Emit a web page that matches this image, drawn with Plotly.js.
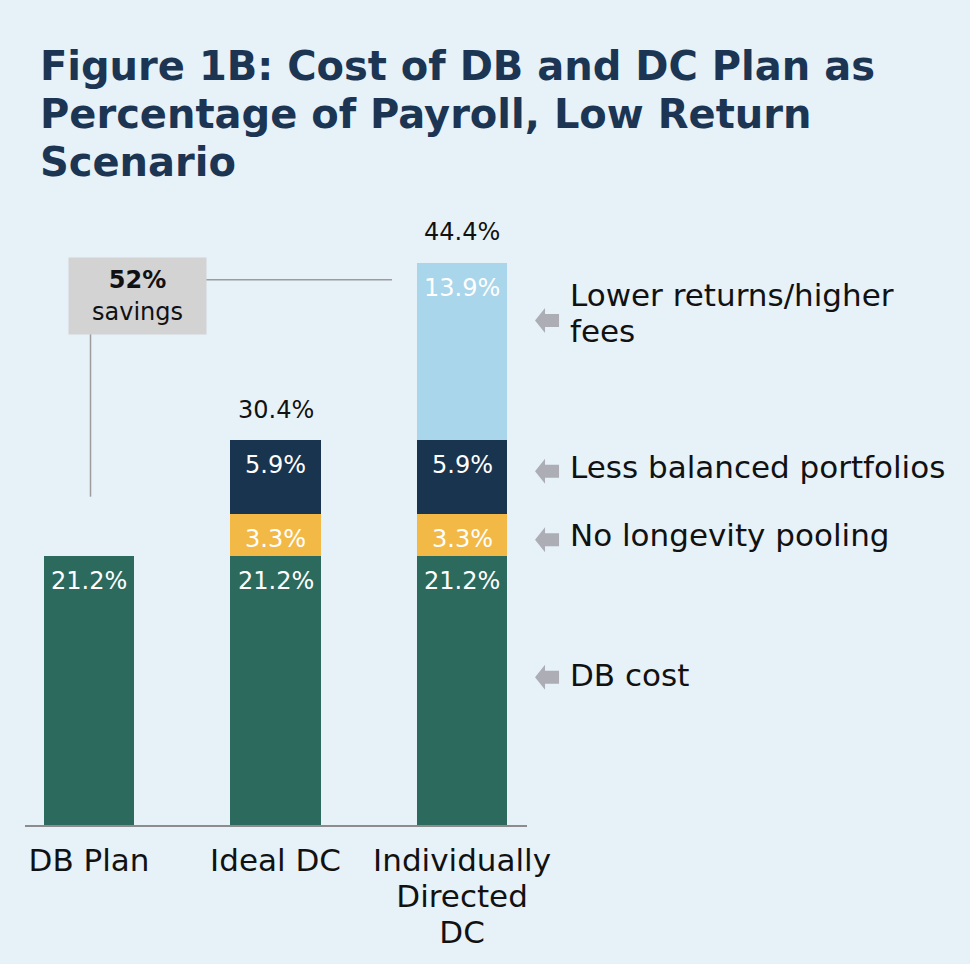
<!DOCTYPE html>
<html><head><meta charset="utf-8">
<script src="https://cdn.plot.ly/plotly-3.0.1.min.js"></script>
<style>html,body{margin:0;padding:0;background:#e6f1f8;}#chart{width:970px;height:964px;}</style>
</head><body><div id="chart"></div>
<script>
// ---- data ----
const categories = ['DB Plan', 'Ideal DC', 'Individually Directed DC'];
const tickLabels = ['DB Plan', 'Ideal DC', 'Individually<br>Directed<br>DC'];
const dbCost = [21.2, 21.2, 21.2];
const noLongevityPooling = [0, 3.3, 3.3];
const lessBalancedPortfolios = [0, 5.9, 5.9];
const lowerReturnsHigherFees = [0, 0, 13.9];
const totals = [null, 30.4, 44.4];
const seriesNames = ['DB cost', 'No longevity pooling', 'Less balanced portfolios', 'Lower returns/higher fees'];
const seriesLabels = ['DB cost', 'No longevity pooling', 'Less balanced portfolios', 'Lower returns/higher<br>fees'];
const savingsPct = '52%';
const savingsWord = 'savings';

// ---- styles / layout ----
const FONT = 'DejaVu Sans';
const colors = ['#2d6a5e', '#f3b947', '#19344f', '#a9d6ea'];
const series = [dbCost, noLongevityPooling, lessBalancedPortfolios, lowerReturnsHigherFees];

const traces = series.map((vals, i) => ({
  type: 'bar', x: categories, y: vals, name: seriesNames[i],
  marker: {color: colors[i], line: {width: 0}},
  hoverinfo: 'skip', showlegend: false
}));

const annotations = [];
// segment value labels
const cum = categories.map(() => 0);
series.forEach((vals, i) => {
  vals.forEach((v, j) => {
    cum[j] += v;
    if (v > 0) {
      annotations.push({
        xref: 'x', yref: 'y', x: categories[j], y: cum[j], yshift: -25,
        text: v.toFixed(1) + '%', showarrow: false, yanchor: 'middle',
        font: {family: FONT, size: 24, color: '#ffffff'}
      });
    }
  });
});
// totals
totals.forEach((t, j) => {
  if (t !== null) annotations.push({
    xref: 'x', yref: 'y', x: categories[j], y: t, yshift: 30,
    text: t.toFixed(1) + '%', showarrow: false, yanchor: 'middle',
    font: {family: FONT, size: 24, color: '#111111'}
  });
});
// side labels (label positions, y in axis units)
const sideLabelY = [11.8, 22.85, 28.2, 40.4];
const sideArrowY = [11.65, 22.5, 27.9, 39.8];
const shapes = [];
seriesLabels.forEach((lab, i) => {
  annotations.push({
    xref: 'paper', yref: 'y', x: 1.0817, y: sideLabelY[i], xanchor: 'left', yanchor: 'middle',
    align: 'left', showarrow: false,
    text: '<span style="font-size:31px">' + lab.split('<br>').join('</span><br><span style="font-size:31px">') + '</span>',
    font: {family: FONT, size: 28, color: '#111111'}
  });
  shapes.push({
    type: 'path', xref: 'paper', yref: 'y', xsizemode: 'pixel', ysizemode: 'pixel',
    xanchor: 1.016, yanchor: sideArrowY[i],
    path: 'M0,0 L10,12.5 L10,6.5 L24,6.5 L24,-6.5 L10,-6.5 L10,-12.5 Z',
    fillcolor: '#adadb6', line: {width: 0}
  });
});
// savings box
annotations.push({
  xref: 'paper', yref: 'y', x: 0.0857, y: 44.8, xanchor: 'left', yanchor: 'top',
  width: 137, height: 76, borderpad: 0, bgcolor: '#d3d3d4', showarrow: false,
  text: '<b>' + savingsPct + '</b><br>' + savingsWord, align: 'center',
  font: {family: FONT, size: 24, color: '#111111'}
});
shapes.push({type: 'line', xref: 'paper', yref: 'y', x0: 0.3586, x1: 0.731, y0: 43.0, y1: 43.0,
  line: {color: '#9c9c9c', width: 1.5}, layer: 'below'});
shapes.push({type: 'line', xref: 'paper', yref: 'y', x0: 0.1305, x1: 0.1305, y0: 38.8, y1: 25.9,
  line: {color: '#9c9c9c', width: 1.5}, layer: 'below'});

const layout = {
  width: 970, height: 964,
  paper_bgcolor: '#e6f1f8', plot_bgcolor: '#e6f1f8',
  margin: {l: 25, r: 443, t: 200, b: 139},
  barmode: 'stack', bargap: 0.515,
  title: {
    text: '<span style="font-size:40px"><b>Figure 1B:</b> Cost of DB and DC Plan as</span><br><span style="font-size:40px">Percentage of Payroll, Low Return</span><br><span style="font-size:40px">Scenario</span>',
    font: {family: FONT, size: 37, color: '#1b3553', weight: 'bold'},
    xref: 'container', yref: 'container', x: 0.0412, xanchor: 'left', y: 0.917, yanchor: 'top'
  },
  xaxis: {
    type: 'category', range: [-0.343, 2.348], tickvals: categories,
    ticktext: tickLabels.map(t => t.split('<br>').map(s => '<span style="font-size:31px">' + s + '</span>').join('<br>')),
    showline: true, linecolor: '#8c8c8c', linewidth: 2, ticks: '', showgrid: false, zeroline: false,
    tickfont: {family: FONT, size: 28, color: '#111111'}, ticklabelstandoff: 10, fixedrange: true
  },
  yaxis: {range: [0, 49.3], visible: false, showgrid: false, zeroline: false, fixedrange: true},
  annotations: annotations, shapes: shapes
};

Plotly.newPlot('chart', traces, layout, {displayModeBar: false, staticPlot: true});
</script></body></html>
